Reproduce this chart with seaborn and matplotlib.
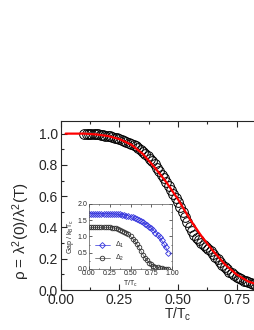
import numpy as np
import pandas as pd
import matplotlib
matplotlib.use("Agg")
import matplotlib.pyplot as plt
import seaborn as sns

# dane: gestosc nadciekla (kolka) i dopasowanie (czerwona linia)
t_exp = [0.10, 0.11, 0.12, 0.13, 0.14, 0.15, 0.16, 0.17, 0.18, 0.19,
         0.20, 0.21, 0.22, 0.23, 0.24, 0.25, 0.26, 0.27, 0.28, 0.29,
         0.30, 0.31, 0.32, 0.33, 0.34, 0.35, 0.36, 0.37, 0.38, 0.39,
         0.40, 0.41, 0.42, 0.43, 0.44, 0.45, 0.46, 0.47, 0.48, 0.49,
         0.50, 0.51, 0.52, 0.53, 0.54, 0.55, 0.56, 0.57, 0.58, 0.59,
         0.60, 0.61, 0.62, 0.63, 0.64, 0.65, 0.66, 0.67, 0.68, 0.69,
         0.70, 0.71, 0.72, 0.73, 0.74, 0.75, 0.76, 0.77, 0.78, 0.79,
         0.80, 0.81, 0.82, 0.83, 0.84, 0.85, 0.86, 0.87, 0.88, 0.89, 0.90]
rho_exp = [1.000, 1.000, 1.000, 0.999, 0.998, 0.997, 0.995, 0.993, 0.991, 0.988,
           0.986, 0.983, 0.979, 0.975, 0.971, 0.966, 0.961, 0.955, 0.949, 0.942,
           0.935, 0.927, 0.918, 0.908, 0.897, 0.885, 0.872, 0.857, 0.841, 0.823,
           0.804, 0.783, 0.761, 0.738, 0.714, 0.690, 0.665, 0.640, 0.614, 0.588,
           0.561, 0.534, 0.500, 0.468, 0.437, 0.405, 0.378, 0.355, 0.335, 0.318,
           0.303, 0.290, 0.276, 0.262, 0.247, 0.231, 0.214, 0.197, 0.180, 0.163,
           0.147, 0.132, 0.118, 0.106, 0.095, 0.085, 0.076, 0.068, 0.061, 0.055,
           0.050, 0.045, 0.041, 0.037, 0.033, 0.030, 0.027, 0.024, 0.021, 0.018, 0.015]

t_fit = [0.02, 0.10, 0.15, 0.20, 0.25, 0.30, 0.35, 0.40, 0.45, 0.50, 0.55, 0.60,
         0.65, 0.70, 0.75, 0.80, 0.85, 0.90, 0.95, 1.00]
rho_fit = [1.0, 1.0, 0.995, 0.985, 0.965, 0.93, 0.87, 0.785, 0.69, 0.58, 0.455, 0.345,
           0.25, 0.165, 0.10, 0.055, 0.03, 0.012, 0.003, 0.0]

# wstawka: przerwy energetyczne
t_gap = [0.0, 0.025, 0.05, 0.075, 0.10, 0.125, 0.15, 0.175, 0.20, 0.225, 0.25, 0.275,
         0.30, 0.325, 0.35, 0.375, 0.40, 0.425, 0.45, 0.475, 0.50, 0.525, 0.55, 0.575,
         0.60, 0.625, 0.65, 0.675, 0.70, 0.725, 0.75, 0.775, 0.80, 0.825, 0.85, 0.875,
         0.90, 0.925, 0.95]
gap1 = [1.70, 1.70, 1.70, 1.70, 1.70, 1.70, 1.70, 1.70, 1.70, 1.70, 1.70, 1.70,
        1.69, 1.69, 1.68, 1.68, 1.67, 1.66, 1.64, 1.63, 1.61, 1.59, 1.56, 1.53,
        1.50, 1.47, 1.43, 1.39, 1.35, 1.30, 1.25, 1.19, 1.12, 1.05, 0.97, 0.88,
        0.78, 0.66, 0.50]
gap2 = [1.28, 1.28, 1.28, 1.28, 1.28, 1.28, 1.28, 1.28, 1.28, 1.28, 1.28, 1.27,
        1.26, 1.25, 1.23, 1.21, 1.18, 1.15, 1.11, 1.06, 1.00, 0.93, 0.85, 0.76,
        0.66, 0.55, 0.44, 0.34, 0.26, 0.19, 0.14, 0.10, 0.07, 0.05, 0.035, 0.02,
        0.012, 0.006, 0.002]

sns.set_style("ticks")
plt.rcParams['font.family'] = ['Liberation Sans', 'DejaVu Sans']
plt.rcParams['mathtext.fontset'] = 'custom'
plt.rcParams['mathtext.rm'] = 'Liberation Sans'
plt.rcParams['mathtext.it'] = 'Liberation Sans'

fig = plt.figure(figsize=(2.55, 3.3), dpi=100)
ax = fig.add_axes([0.239, 0.121, 0.918, 0.512])

df_exp = pd.DataFrame({"t": t_exp, "rho": rho_exp})
df_fit = pd.DataFrame({"t": t_fit, "rho": rho_fit})
sns.lineplot(data=df_exp, x="t", y="rho", ax=ax, linestyle="none", marker="o",
             markersize=7, markerfacecolor="none", markeredgecolor="black",
             markeredgewidth=0.7, color="black")
sns.lineplot(data=df_fit, x="t", y="rho", ax=ax, color="red", linewidth=1.6)

ax.set_xlim(0, 1.0)
ax.set_ylim(0, 1.08)
ax.set_xticks([0.0, 0.25, 0.5, 0.75, 1.0])
ax.set_xticklabels(["0.00", "0.25", "0.50", "0.75", "1.00"])
ax.set_xticks(np.arange(0.125, 1.0, 0.25), minor=True)
ax.set_yticks([0.0, 0.2, 0.4, 0.6, 0.8, 1.0])
ax.set_yticks(np.arange(0.1, 1.08, 0.2), minor=True)
ax.tick_params(which="both", direction="in", top=True, right=True, labelsize=10,
               width=0.8, pad=2)
ax.tick_params(which="major", length=4)
ax.tick_params(which="minor", length=2)
for s in ax.spines.values():
    s.set_linewidth(0.8)
ax.set_xlabel("T/T$_{\\rm c}$", fontsize=10, labelpad=-1)
ax.set_ylabel("ρ = λ$^2$(0)/λ$^2$(T)", fontsize=11)
ax.yaxis.set_label_coords(-0.125, 0.35)

# wstawka
ins = fig.add_axes([0.349, 0.185, 0.326, 0.197])
df_gap = pd.DataFrame({"t": t_gap, "g1": gap1, "g2": gap2})
sns.lineplot(data=df_gap, x="t", y="g1", ax=ins, color="#3333dd", linewidth=0.5,
             marker="D", markersize=3, markerfacecolor="none",
             markeredgecolor="#3333dd", markeredgewidth=0.6, label="Δ$_1$")
sns.lineplot(data=df_gap, x="t", y="g2", ax=ins, color="#555555", linewidth=0.5,
             marker="o", markersize=3.3, markerfacecolor="none",
             markeredgecolor="#333333", markeredgewidth=0.6, label="Δ$_2$")
ins.set_xlim(0, 1.0)
ins.set_ylim(0, 2.0)
ins.set_xticks([0.0, 0.25, 0.5, 0.75, 1.0])
ins.set_xticklabels(["0.00", "0.25", "0.50", "0.75", "1.00"])
ins.set_yticks([0.0, 0.5, 1.0, 1.5, 2.0])
ins.set_xticks(np.arange(0.125, 1.0, 0.25), minor=True)
ins.set_yticks(np.arange(0.25, 2.0, 0.5), minor=True)
ins.tick_params(which="both", direction="in", top=True, right=True, labelsize=5,
                width=0.5, pad=1)
ins.tick_params(which="major", length=2)
ins.tick_params(which="minor", length=1)
for s in ins.spines.values():
    s.set_linewidth(0.5)
    s.set_color("#555555")
ins.set_xlabel("T/T$_{\\rm c}$", fontsize=5, labelpad=1)
ins.set_ylabel("Gap / k$_{\\rm B}$T$_{\\rm c}$", fontsize=5, labelpad=1)
ins.legend(loc="lower left", frameon=False, fontsize=5, handlelength=2.2,
           borderpad=0.3, labelspacing=0.4)

fig.savefig("out.png", dpi=100)
